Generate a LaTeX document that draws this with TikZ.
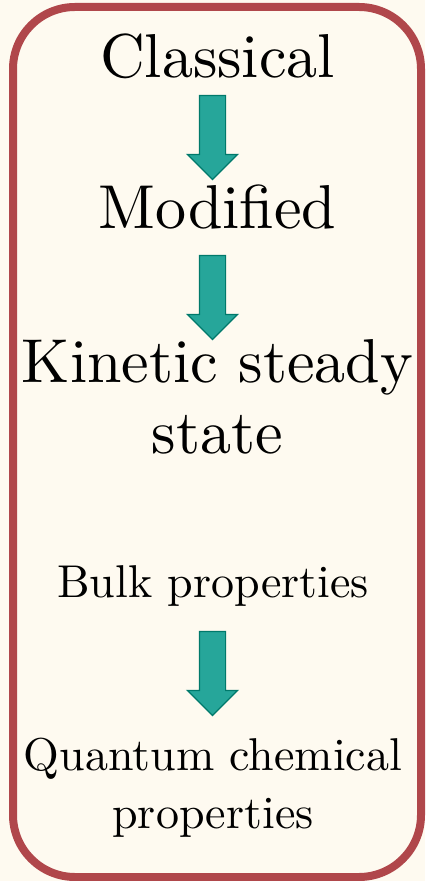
\documentclass[tikz,border=0pt]{standalone}
\usepackage{fontspec}
\setmainfont{lmroman10-regular.otf}
\usepackage{tikz}
\usetikzlibrary{shapes.arrows}
\definecolor{panelCream}{HTML}{FEFAF0}
\definecolor{panelRed}{HTML}{B0474B}
\definecolor{flowTeal}{HTML}{26A69A}
\definecolor{flowTealDark}{HTML}{00796B}
\tikzset{
  bigLabel/.style={
    anchor=base,
    align=center,
    inner sep=0pt,
    font=\fontsize{31}{35.5}\selectfont
  },
  smallLabel/.style={
    anchor=base,
    align=center,
    inner sep=0pt,
    font=\fontsize{23}{29}\selectfont
  },
  downArrow/.style={
    single arrow,
    rotate=-90,
    draw=flowTealDark,
    fill=flowTeal,
    line width=0.6pt,
    inner sep=0pt,
    inner ysep=6.25pt,
    minimum height=42pt,
    single arrow head extend=6pt
  }
}
\begin{document}
\begin{tikzpicture}[x=0.5pt,y=-0.5pt]
  % page and frame
  \fill[panelCream] (0,0) rectangle (425,881);
  \useasboundingbox (0,0) rectangle (425,881);
  \draw[panelRed,fill=panelCream,line width=4pt,rounded corners=31pt] (13,7) rectangle (421,877);

  % labels (multi-line ones sit on their last baseline)
  \node[bigLabel] (classical) at (217.5,78) {Classical};
  \node[bigLabel] (modified) at (217.5,229) {Modified};
  \node[bigLabel] (kinetic) at (217.5,453) {Kinetic steady\\state};
  \node[smallLabel] (bulk) at (213,597) {Bulk properties};
  \node[smallLabel] (quantum) at (213,828) {Quantum chemical\\properties};

  \node[downArrow] (arrowA) at (212.5,131) {};
  \node[downArrow] (arrowB) at (212.5,291) {};
  \node[downArrow] (arrowC) at (212.5,667) {};
\end{tikzpicture}
\end{document}
